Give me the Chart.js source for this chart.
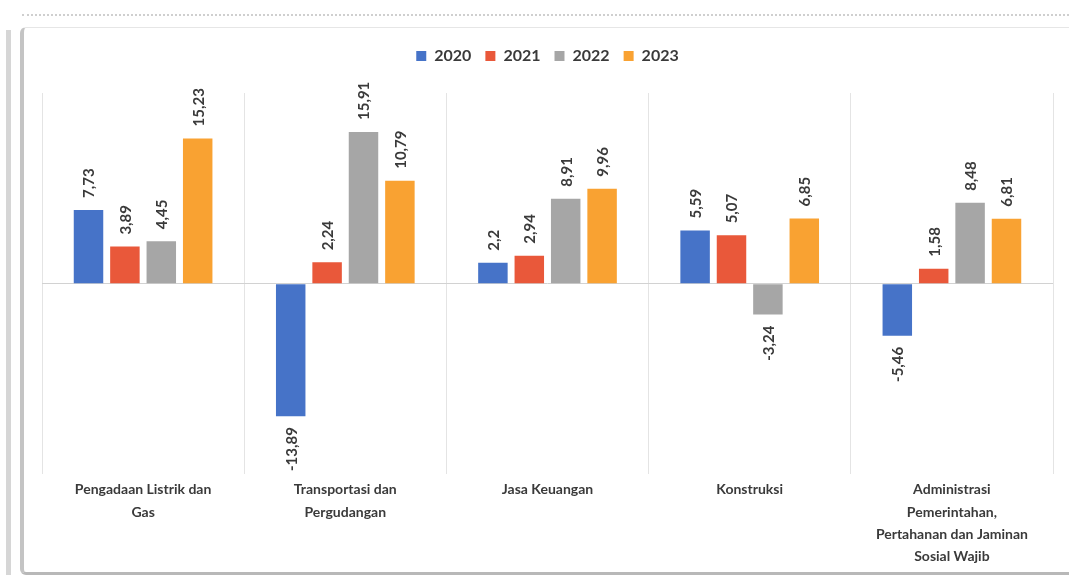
<!DOCTYPE html>
<html>
<head>
<meta charset="utf-8">
<script src="https://cdn.jsdelivr.net/npm/chart.js@4"></script>
<style>
  html, body { margin: 0; padding: 0; background: #fff; }
  #wrap { position: relative; width: 1069px; height: 580px; overflow: hidden; }
  #frame {
    position: absolute; left: 20px; top: 27px; width: 1060px; height: 544px;
    border-left: 4px solid #c4c4c4; border-top: 1px solid #e6e6e6;
    border-bottom: 3px solid #b8b8b8; border-radius: 6px 0 0 6px;
  }
  #dots {
    position: absolute; left: 22px; right: 0; top: 14px;
    border-top: 2px dotted #cfcfcf;
  }
  #edge { position: absolute; left: 6px; top: 30px; width: 5px; height: 545px; background: #d6d6d6; }
  canvas { position: absolute; left: 0; top: 0; }
</style>
</head>
<body>
<div id="wrap">
  <div id="dots"></div>
  <div id="edge"></div>
  <div id="frame"></div>
  <canvas id="growth-chart" width="1069" height="580"></canvas>
</div>
<script>
const categories = [
  ["Pengadaan Listrik dan", "Gas"],
  ["Transportasi dan", "Pergudangan"],
  ["Jasa Keuangan"],
  ["Konstruksi"],
  ["Administrasi", "Pemerintahan,", "Pertahanan dan Jaminan", "Sosial Wajib"],
];
const years = ["2020", "2021", "2022", "2023"];
const values2020 = [7.73, -13.89, 2.2, 5.59, -5.46];
const values2021 = [3.89, 2.24, 2.94, 5.07, 1.58];
const values2022 = [4.45, 15.91, 8.91, -3.24, 8.48];
const values2023 = [15.23, 10.79, 9.96, 6.85, 6.81];
const colors = ["#4673C8", "#E9583A", "#A6A6A6", "#F9A232"];

const textColor = "#3a3a3a";
const fontFamily = "Lato, 'DejaVu Sans', sans-serif";

// rotated value labels above / below each bar
const barLabels = {
  id: "barLabels",
  afterDatasetsDraw(chart) {
    const ctx = chart.ctx;
    ctx.save();
    ctx.font = "bold 15px " + fontFamily;
    ctx.fillStyle = textColor;
    ctx.textBaseline = "middle";
    chart.data.datasets.forEach((ds, i) => {
      chart.getDatasetMeta(i).data.forEach((bar, j) => {
        const v = ds.data[j];
        const txt = String(v).replace(".", ",");
        ctx.save();
        if (v >= 0) {
          ctx.translate(bar.x, bar.y - 12);
          ctx.rotate(-Math.PI / 2);
          ctx.textAlign = "left";
        } else {
          ctx.translate(bar.x, bar.y + 11);
          ctx.rotate(-Math.PI / 2);
          ctx.textAlign = "right";
        }
        ctx.fillText(txt, 0, 1);
        ctx.restore();
      });
    });
    ctx.restore();
  },
};

// extra room under the legend
const legendGap = {
  id: "legendGap",
  beforeInit(chart) {
    const fit = chart.legend.fit;
    chart.legend.fit = function () {
      fit.bind(chart.legend)();
      this.height += 19;
    };
  },
};

const series = [values2020, values2021, values2022, values2023];

new Chart(document.getElementById("growth-chart"), {
  type: "bar",
  data: {
    labels: categories,
    datasets: series.map((d, i) => ({
      label: years[i],
      data: d,
      backgroundColor: colors[i],
      barPercentage: 0.81,
      categoryPercentage: 0.72,
    })),
  },
  options: {
    responsive: false,
    animation: false,
    layout: { padding: { left: 42, right: 16, top: 34, bottom: 8 } },
    plugins: {
      legend: {
        position: "top",
        labels: {
          boxWidth: 10,
          boxHeight: 10,
          padding: 14,
          color: textColor,
          font: { family: fontFamily, size: 16, weight: "bold" },
        },
      },
      tooltip: { enabled: false },
    },
    scales: {
      x: {
        grid: {
          offset: true,
          color: "#e4e4e4",
          drawTicks: false,
        },
        border: { display: false },
        ticks: {
          color: textColor,
          padding: 4,
          maxRotation: 0,
          autoSkip: false,
          font: { family: fontFamily, size: 14, weight: "bold", lineHeight: 1.6 },
        },
      },
      y: {
        min: -20,
        max: 20,
        ticks: { display: false, stepSize: 5 },
        grid: {
          drawTicks: false,
          color: (c) => (c.tick && c.tick.value === 0 ? "#d2d2d2" : "rgba(0,0,0,0)"),
        },
        border: { display: false },
      },
    },
  },
  plugins: [barLabels, legendGap],
});
</script>
</body>
</html>
